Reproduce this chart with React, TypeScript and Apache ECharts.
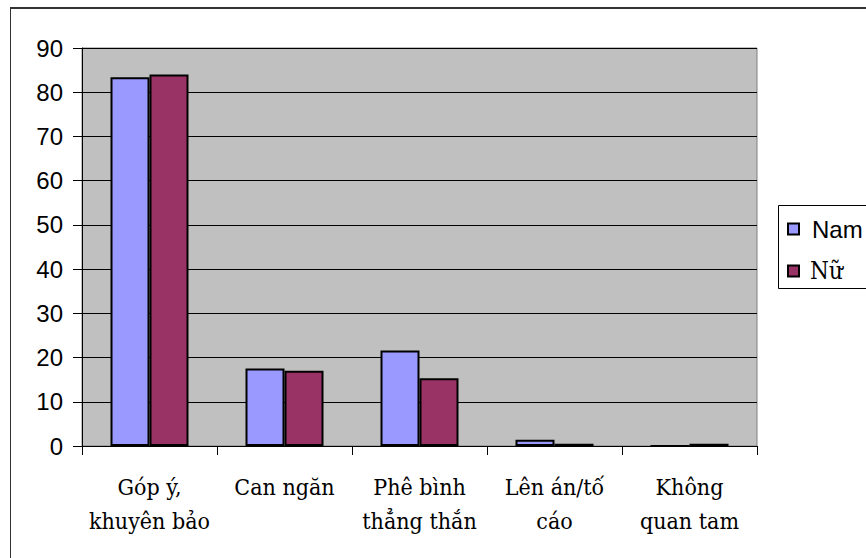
import React, { useEffect, useRef } from "react";
import * as echarts from "echarts";

const categories = [
  "Góp ý,\nkhuyên bảo",
  "Can ngăn",
  "Phê bình\nthẳng thắn",
  "Lên án/tố\ncáo",
  "Không\nquan tam",
];
const namValues = [83.4, 17.5, 21.6, 1.4, 0];
const nuValues = [84.0, 17.0, 15.3, 0.5, 0.5];
const seriesNames = ["Nam", "Nữ"];
const yMin = 0;
const yMax = 90;
const yInterval = 10;

const SERIF = "DejaVu Serif Condensed";
const SANS = "Liberation Sans";

export default function App() {
  const ref = useRef<HTMLDivElement>(null);
  useEffect(() => {
    if (!ref.current) return;
    const chart = echarts.init(ref.current, null, { renderer: "svg" });
    chart.setOption({
      animation: false,
      backgroundColor: "#FFFFFF",
      grid: {
        left: 82,
        right: 109,
        top: 48,
        bottom: 112,
        show: true,
        backgroundColor: "#C0C0C0",
        borderColor: "#808080",
        borderWidth: 1,
        containLabel: false,
      },
      legend: {
        orient: "vertical",
        left: 787,
        top: 217,
        padding: 0,
        itemWidth: 11,
        itemHeight: 11,
        itemGap: 18,
        icon: "rect",
        data: seriesNames,
        formatter: (name: string) => (name === "Nam" ? `{a|${name}}` : `{b|${name}}`),
        textStyle: {
          color: "#000",
          rich: {
            a: {
              fontFamily: SANS,
              fontSize: 24,
              lineHeight: 24,
              padding: [0, 0, 0, 8],
              color: "#000",
            },
            b: {
              fontFamily: SERIF,
              fontSize: 24,
              lineHeight: 24,
              padding: [0, 0, 0, 6],
              color: "#000",
            },
          },
        },
      },
      xAxis: {
        type: "category",
        data: categories,
        axisLine: { lineStyle: { color: "#000", width: 1 } },
        axisTick: { show: true, length: 9, lineStyle: { color: "#000" } },
        axisLabel: {
          interval: 0,
          margin: 24,
          fontFamily: SERIF,
          fontSize: 23,
          lineHeight: 34,
          color: "#000",
          align: "center",
        },
        splitLine: { show: false },
      },
      yAxis: {
        type: "value",
        min: yMin,
        max: yMax,
        interval: yInterval,
        axisLine: { show: true, lineStyle: { color: "#000", width: 1 } },
        axisTick: { show: true, length: 9, lineStyle: { color: "#000" } },
        axisLabel: {
          margin: 19,
          fontFamily: SANS,
          fontSize: 24,
          color: "#000",
        },
        splitLine: { show: true, lineStyle: { color: "#000", width: 1 } },
      },
      series: [
        {
          name: seriesNames[0],
          type: "bar",
          data: namValues,
          barWidth: 39,
          barGap: "0%",
          itemStyle: { color: "#9999FF", borderColor: "#000", borderWidth: 2 },
        },
        {
          name: seriesNames[1],
          type: "bar",
          data: nuValues,
          barWidth: 39,
          barGap: "0%",
          itemStyle: { color: "#993366", borderColor: "#000", borderWidth: 2 },
        },
      ],
      graphic: [
        {
          type: "rect",
          shape: { x: 778.5, y: 205.5, width: 120, height: 83 },
          style: { fill: "#FFFFFF", stroke: "#000", lineWidth: 1 },
          z: -1,
        },
        {
          type: "line",
          shape: { x1: 10, y1: 8, x2: 866, y2: 8 },
          style: { stroke: "#333", lineWidth: 2 },
        },
        {
          type: "line",
          shape: { x1: 10.5, y1: 8, x2: 10.5, y2: 558 },
          style: { stroke: "#333", lineWidth: 1 },
        },
      ],
    });
    return () => chart.dispose();
  }, []);
  return (
    <div
      ref={ref}
      style={{ position: "fixed", left: 0, top: 0, width: 866, height: 558 }}
    />
  );
}
